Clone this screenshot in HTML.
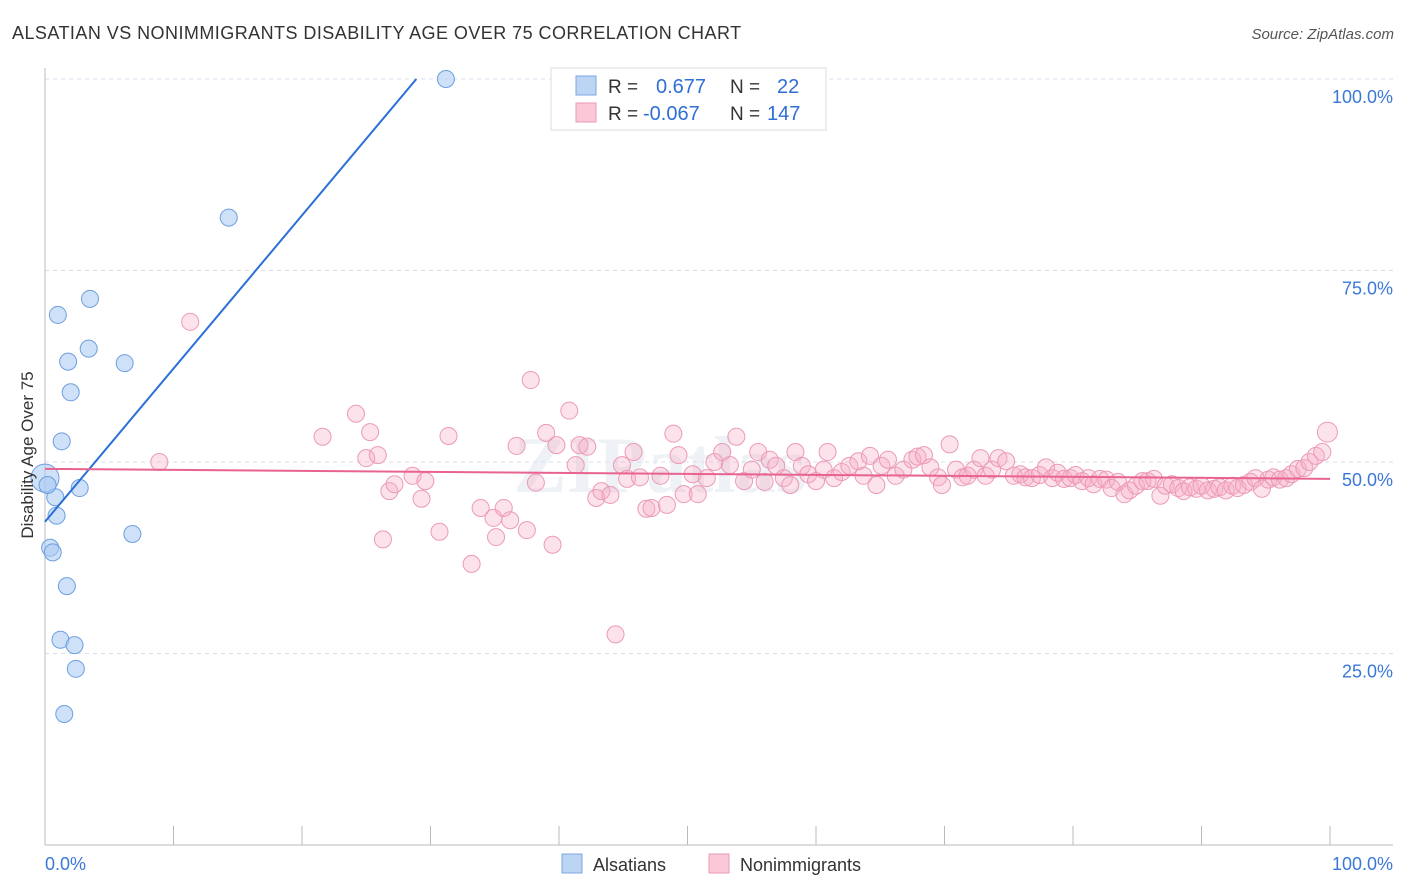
<!DOCTYPE html>
<html><head><meta charset="utf-8">
<style>
body{margin:0;background:#fff;font-family:"Liberation Sans",sans-serif;}
svg{display:block}
</style></head>
<body>
<svg id="chart" width="1406" height="892" xmlns="http://www.w3.org/2000/svg">
<text x="12" y="39" font-size="18" fill="#333" letter-spacing="0.45">ALSATIAN VS NONIMMIGRANTS DISABILITY AGE OVER 75 CORRELATION CHART</text>
<text x="1394" y="39" font-size="15" fill="#555" font-style="italic" text-anchor="end">Source: ZipAtlas.com</text>
<text x="660" y="492" font-size="80" fill="#eef1f5" text-anchor="middle" font-family="Liberation Serif" font-weight="bold">ZIPatlas</text>
<g id="grid"></g>
<g id="axes"></g>
<g id="marks"></g>
<text transform="translate(33,455) rotate(-90)" font-size="17" fill="#333" text-anchor="middle">Disability Age Over 75</text>
<g>
<rect x="551" y="68" width="275" height="62" fill="#fff" stroke="#ddd"/>
<rect x="576" y="76" width="20" height="19" fill="#bcd5f5" stroke="#7aa6e0"/>
<rect x="576" y="103" width="20" height="19" fill="#fbc8d8" stroke="#eb9ab6"/>
<text x="608" y="93" font-size="19" fill="#333">R = </text><text x="656" y="93" font-size="20" fill="#2f6fd6">0.677</text>
<text x="730" y="93" font-size="19" fill="#333">N = </text><text x="777" y="93" font-size="20" fill="#2f6fd6">22</text>
<text x="608" y="120" font-size="19" fill="#333">R = </text><text x="643" y="120" font-size="20" fill="#2f6fd6">-0.067</text>
<text x="730" y="120" font-size="19" fill="#333">N = </text><text x="767" y="120" font-size="20" fill="#2f6fd6">147</text>
</g>
<g>
<rect x="562" y="854" width="20" height="19" fill="#bcd5f5" stroke="#7aa6e0"/>
<text x="593" y="871" font-size="18" fill="#333">Alsatians</text>
<rect x="709" y="854" width="20" height="19" fill="#fbc8d8" stroke="#eb9ab6"/>
<text x="740" y="871" font-size="18" fill="#333">Nonimmigrants</text>
</g>
</svg>
<script>
const yTicks=[25,50,75,100];
const yTickLabels=["25.0%","50.0%","75.0%","100.0%"];
const xTickLabels=["0.0%","100.0%"];
const alsX=[31.2,14.3,3.5,1.0,3.4,1.8,6.2,2.0,1.3,0,0.8,2.7,0.9,6.8,0.4,0.6,1.7,1.2,2.3,2.4,1.5,0.2];
const alsY=[100,81.9,71.3,69.2,64.8,63.1,62.9,59.1,52.7,47.9,45.4,46.6,43.0,40.6,38.8,38.2,33.8,26.8,26.1,23.0,17.1,47.0];
const nonPx=[[190,322],[160,462],[323,437],[356,414],[366,458],[370,432],[378,455],[383,539],[389,491],[395,484],[412,476],[421,499],[426,481],[440,532],[448,436],[471,564],[480,508],[493,518],[496,537],[504,508],[510,520],[516,446],[527,530],[531,380],[536,483],[546,433],[553,545],[556,445],[569,411],[576,465],[580,445],[587,447],[596,498],[601,491],[610,495],[616,634],[622,465],[627,479],[634,452],[640,477],[646,509],[652,508],[660,476],[667,505],[674,434],[678,455],[684,494],[692,474],[698,494],[707,478],[714,462],[722,452],[730,465],[736,437],[744,481],[752,470],[758,452],[764,482],[770,460],[776,466],[784,478],[790,485],[796,452],[802,466],[808,474],[816,481],[824,470],[828,452],[834,478],[842,472],[850,466],[858,461],[864,476],[870,456],[876,485],[882,466],[888,460],[896,476],[904,470],[912,460],[918,457],[924,455],[930,467],[938,477],[942,485],[950,444],[956,470],[962,477],[968,476],[974,470],[980,458],[986,476],[992,470],[998,458],[1006,461],[1014,476],[1020,474],[1026,477],[1032,478],[1040,475],[1046,467],[1052,478],[1058,473],[1064,479],[1070,478],[1076,475],[1082,481],[1088,478],[1094,484],[1100,479],[1106,480],[1112,488],[1118,482],[1124,494],[1130,490],[1136,486],[1142,481],[1148,481],[1154,479],[1160,496],[1166,486],[1172,484],[1178,488],[1184,491],[1190,487],[1196,489],[1202,486],[1208,490],[1214,489],[1220,487],[1226,490],[1232,486],[1238,488],[1244,485],[1250,482],[1256,478],[1262,489],[1268,480],[1274,477],[1280,480],[1286,478],[1292,474],[1298,469],[1304,468],[1310,462],[1316,456],[1322,452],[1328,432]];
const nonX=nonPx.map(p=>+((p[0]-45)/12.85).toFixed(1));
const nonY=nonPx.map(p=>+((845-p[1])/7.66).toFixed(1));
const alsTrend=[[0,42.2],[28.9,100]];
const nonTrend=[[0,49.1],[100,47.8]];

const NS="http://www.w3.org/2000/svg";
const sx=v=>45+v*12.85, sy=v=>845-v*7.66;
function mk(tag,attrs,parent){const e=document.createElementNS(NS,tag);for(const k in attrs)e.setAttribute(k,attrs[k]);parent.appendChild(e);return e;}
const grid=document.getElementById('grid'),axes=document.getElementById('axes'),marks=document.getElementById('marks');
yTicks.forEach((t,i)=>{
 const l=mk('line',{x1:45,x2:1393,y1:sy(t),y2:sy(t),stroke:'#dde',"stroke-dasharray":'4,4'},grid);
 
 
 const tx=mk('text',{x:1393,y:sy(t)+24,"font-size":18,fill:'#3a78d8',"text-anchor":'end'},axes);
 tx.textContent=yTickLabels[i];
 
 
});
const ax=mk('line',{x1:45,x2:45,y1:68,y2:845,stroke:'#bbb'},axes);


const bx=mk('line',{x1:45,x2:1393,y1:845,y2:845,stroke:'#bbb'},axes);


for(let i=0;i<=10;i++){
 const tk=mk('line',{x1:sx(i*10),x2:sx(i*10),y1:826,y2:845,stroke:'#bbb'},axes);
 
 
}
[[0,45,'start'],[1,1393,'end']].forEach(([i,x,a])=>{
 const t=mk('text',{x:x,y:870,"font-size":18,fill:'#3a78d8',"text-anchor":a},axes);
 t.textContent=xTickLabels[i];
 
 
});
nonX.forEach((x,i)=>{
 const c=mk('circle',{cx:sx(x),cy:sy(nonY[i]),r:i==nonX.length-1?10:8.5,fill:'rgba(246,172,198,0.35)',stroke:'#ec9ab8',"stroke-width":1},marks);
 
 
});
alsX.forEach((x,i)=>{
 const c=mk('circle',{cx:sx(x),cy:sy(alsY[i]),r:i==9?14:8.5,fill:'rgba(168,200,242,0.55)',stroke:'#6d9fe0',"stroke-width":1},marks);
 
 
});
const l1=mk('line',{x1:sx(alsTrend[0][0]),y1:sy(alsTrend[0][1]),x2:sx(alsTrend[1][0]),y2:sy(alsTrend[1][1]),stroke:'#2b6fd9',"stroke-width":2},marks);


const l2=mk('line',{x1:sx(nonTrend[0][0]),y1:sy(nonTrend[0][1]),x2:sx(nonTrend[1][0]),y2:sy(nonTrend[1][1]),stroke:'#e8638f',"stroke-width":2},marks);


</script>
</body></html>
